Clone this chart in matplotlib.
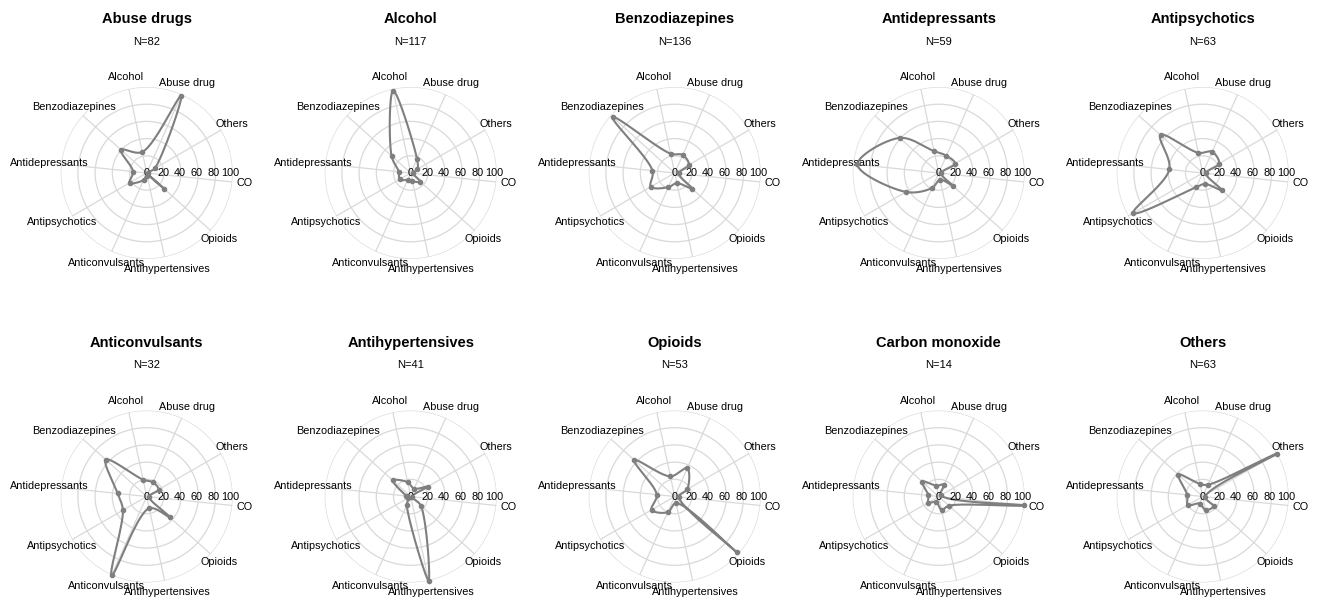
import numpy as np
import matplotlib.pyplot as plt

plt.rcParams['font.family'] = ['Liberation Sans', 'DejaVu Sans']

# spoke order, counter-clockwise starting from "Abuse drug"
categories = ['Abuse drug', 'Alcohol', 'Benzodiazepines', 'Antidepressants',
              'Antipsychotics', 'Anticonvulsants', 'Antihypertensives',
              'Opioids', 'CO', 'Others']

panel_titles = ['Abuse drugs', 'Alcohol', 'Benzodiazepines', 'Antidepressants',
                'Antipsychotics', 'Anticonvulsants', 'Antihypertensives',
                'Opioids', 'Carbon monoxide', 'Others']
panel_n = [82, 117, 136, 59, 63, 32, 41, 53, 14, 63]

# percentages per panel, same order as categories
abuse_drugs = [98, 25, 40, 16, 23, 9, 3, 27, 2, 11]
alcohol = [18, 98, 30, 14, 15, 9, 10, 15, 3, 9]
benzodiazepines = [23, 23, 97, 26, 32, 18, 12, 27, 5, 19]
antidepressants = [22, 26, 61, 95, 44, 19, 8, 22, 3, 22]
antipsychotics = [27, 24, 66, 39, 93, 18, 13, 30, 4, 22]
anticonvulsants = [18, 20, 64, 34, 32, 100, 14, 36, 3, 16]
antihypertensives = [10, 17, 28, 5, 3, 11, 100, 16, 2, 23]
opioids = [36, 24, 63, 21, 31, 20, 8, 97, 5, 17]
carbon_monoxide = [15, 13, 26, 12, 14, 7, 16, 16, 100, 3]
others = [15, 15, 38, 18, 20, 9, 16, 17, 3, 100]

panel_values = [abuse_drugs, alcohol, benzodiazepines, antidepressants,
                antipsychotics, anticonvulsants, antihypertensives,
                opioids, carbon_monoxide, others]

radial_ticks = [0, 20, 40, 60, 80, 100]

W, H = 1320, 603
R_PX = 86
LINE_COLOR = '#7f7f7f'
GRID_COLOR = '#d9d9d9'
TWO_PI = 2 * np.pi

start_angle = np.deg2rad(66)
angles = (start_angle + np.arange(len(categories)) * TWO_PI / len(categories)) % TWO_PI


def make_tangent(prev, cur, nxt, smoothness=1.0):
    d1 = prev - cur
    d2 = nxt - cur
    d1a = np.hypot(*d1) ** 0.5
    d2a = np.hypot(*d2) ** 0.5
    num = (d2a * d2a * d1 - d1a * d1a * d2) * smoothness
    den1 = 3 * d2a * (d1a + d2a)
    den2 = 3 * d1a * (d1a + d2a)
    back = cur + (num / den1 if den1 else 0)
    fwd = cur - (num / den2 if den2 else 0)
    return back, fwd


def closed_spline(r, theta, steps=40):
    pts = np.column_stack([r * np.cos(theta), r * np.sin(theta)])
    n = len(pts)
    tans = [make_tangent(pts[i - 1], pts[i], pts[(i + 1) % n]) for i in range(n)]
    t = np.linspace(0, 1, steps)[:, None]
    out = []
    for i in range(n):
        p0, p1 = pts[i], pts[(i + 1) % n]
        c1, c2 = tans[i][1], tans[(i + 1) % n][0]
        seg = ((1 - t) ** 3 * p0 + 3 * (1 - t) ** 2 * t * c1
               + 3 * (1 - t) * t ** 2 * c2 + t ** 3 * p1)
        out.append(seg)
    xy = np.vstack(out)
    return np.arctan2(xy[:, 1], xy[:, 0]) % TWO_PI, np.hypot(xy[:, 0], xy[:, 1])


fig = plt.figure(figsize=(W / 100, H / 100), dpi=100)

for k, (title, n, vals) in enumerate(zip(panel_titles, panel_n, panel_values)):
    row, col = divmod(k, 5)
    cx = 146.7 + 264 * col
    cy = 173 + 323.5 * row

    ax = fig.add_axes([(cx - R_PX) / W, 1 - (cy + R_PX) / H, 2 * R_PX / W, 2 * R_PX / H],
                      projection='polar')
    ax.set_facecolor('none')
    ax.spines['polar'].set_visible(False)

    vals = np.array(vals, dtype=float)
    th, rr = closed_spline(vals, angles)
    ax.plot(th, rr, color=LINE_COLOR, lw=1.5, clip_on=False, zorder=3)
    ax.plot(angles, vals, 'o', color=LINE_COLOR, ms=3, clip_on=False, zorder=4)

    # category names around the rim
    for ang, name in zip(angles, categories):
        ax.text(ang, 114, name, ha='center', va='center', fontsize=7.8,
                clip_on=False)

    # radial scale along the horizontal
    for rv in radial_ticks:
        ax.text(0, rv * 0.97, str(rv), ha='center', va='center', fontsize=7.8,
                clip_on=False)

    ax.set_xlim(0, TWO_PI)
    ax.set_ylim(0, 100)
    ax.set_xticks(angles)
    ax.set_xticklabels([])
    ax.set_yticks(radial_ticks[1:])
    ax.set_yticklabels([])
    ax.tick_params(length=0)
    ax.grid(True, color=GRID_COLOR, lw=0.9)

    fig.text(cx / W, 1 - (19.3 + 323.5 * row) / H, title, ha='center', va='center',
             fontsize=10.5, fontweight='bold')
    fig.text(cx / W, 1 - (41.7 + 323.5 * row) / H, f'N={n}', ha='center', va='center',
             fontsize=8)

fig.savefig('out.png', dpi=100)
